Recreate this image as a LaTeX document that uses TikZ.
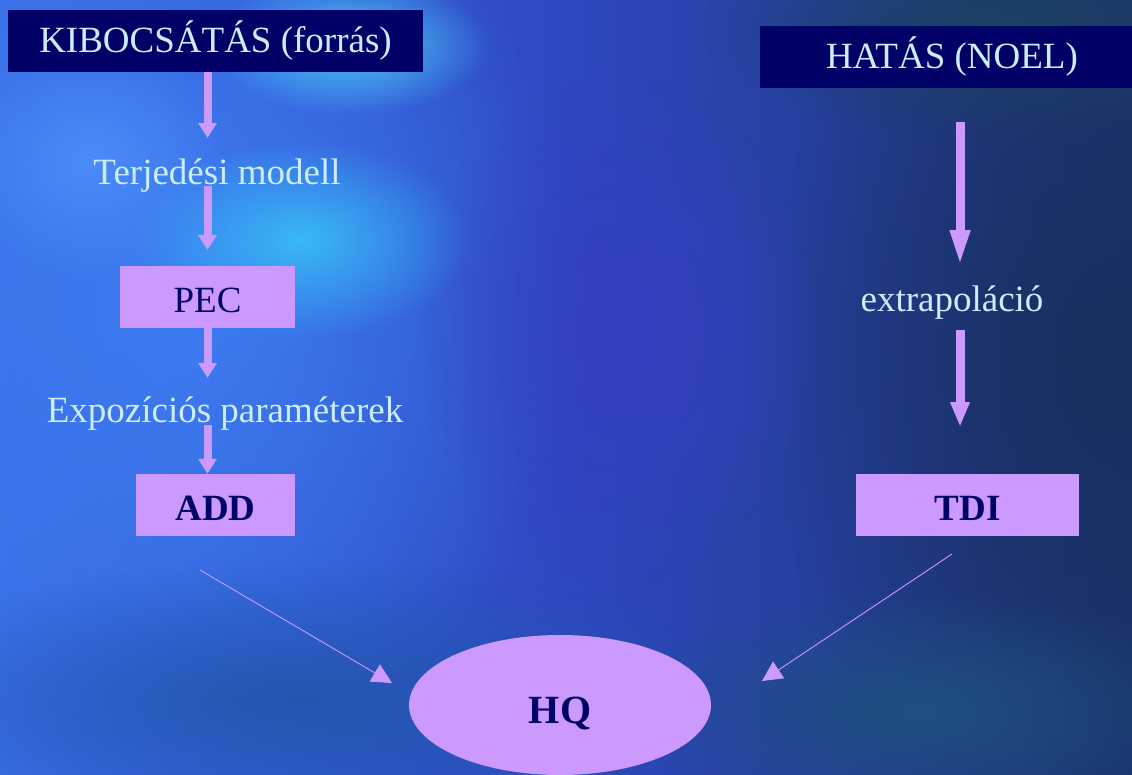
\documentclass[tikz,border=0pt]{standalone}
\usepackage{fontspec}
\setmainfont{Liberation Serif}
\usetikzlibrary{arrows.meta,fadings,shapes.geometric}
\tikzfading[name=glow, inner color=transparent!0, outer color=transparent!100]
\definecolor{navy}{HTML}{000066}
\definecolor{lilac}{HTML}{CC99FF}
\definecolor{paletxt}{HTML}{CCECFF}
\definecolor{bgL}{HTML}{3A6FE8}
\definecolor{bgM}{HTML}{2E48C0}
\definecolor{bgR}{HTML}{1C3572}
\definecolor{gA}{HTML}{3D7CF2}
\definecolor{gB}{HTML}{18305E}
\definecolor{gC}{HTML}{3540C0}
\definecolor{gD}{HTML}{4CC8F8}
\definecolor{gE}{HTML}{38B8F5}
\definecolor{gF}{HTML}{4A8CF8}
\definecolor{gG}{HTML}{1C4262}
\definecolor{gH}{HTML}{2456B0}
\definecolor{gI}{HTML}{1E5080}
\newcommand{\lowtxt}[2]{\raisebox{#1}[0pt][0pt]{#2}}
\begin{document}
\begin{tikzpicture}[x=1pt,y=-1pt,
  every node/.style={font=\fontsize{37}{42}\selectfont, inner sep=0pt},
  title/.style={fill=navy, text=paletxt, minimum height=62pt},
  box/.style={fill=lilac, text=navy, minimum height=62pt},
  boldbox/.style={box, font=\fontsize{37}{42}\selectfont\bfseries},
  lbl/.style={text=paletxt},
  fat/.style={draw=lilac, line width=8pt, -{Triangle[width=18pt,length=15pt]}},
  fatr/.style={draw=lilac, line width=9pt},
  thin/.style={draw=lilac, line width=0.9pt, -{Triangle[width=20pt,length=20pt]}},
  glowf/.style={fill=#1, path fading=glow}
]
\useasboundingbox (0,0) rectangle (1132,774);
% background
\shade[left color=bgL, right color=bgM] (0,0) rectangle (566,774);
\shade[left color=bgM, right color=bgR] (566,0) rectangle (1132,774);
\fill[glowf=gA] (180,300) ellipse (400 and 480);
\fill[glowf=gB] (1100,360) ellipse (330 and 520);
\fill[glowf=gC] (620,330) ellipse (200 and 260);
\fill[glowf=gD] (350,45) ellipse (140 and 70);
\fill[glowf=gE] (300,240) ellipse (170 and 100);
\fill[glowf=gF] (90,160) ellipse (140 and 120);
\fill[glowf=gG] (1000,30) ellipse (300 and 110);
\fill[glowf=gH] (300,700) ellipse (450 and 140);
\fill[glowf=gI] (920,710) ellipse (300 and 120);
% nodes
\node[title, minimum width=415pt] (kib) at (215.5,41) {KIBOCSÁTÁS (forrás)};
\node[title, minimum width=372pt] (hat) at (946,57) {\hspace*{12pt}HATÁS (NOEL)};
\node[lbl] (terj) at (217,176) {Terjedési modell};
\node[box, minimum width=175pt] (pec) at (207.5,297) {\lowtxt{-15pt}{PEC}};
\node[lbl] (expo) at (225,414) {Expozíciós paraméterek};
\node[boldbox, minimum width=159pt] (add) at (215.5,505) {\lowtxt{-15pt}{ADD}};
\node[lbl] (extra) at (952,303) {extrapoláció};
\node[boldbox, minimum width=223pt] (tdi) at (967.5,505) {\lowtxt{-15pt}{TDI}};
\node[ellipse, fill=lilac, text=navy, minimum width=302pt, minimum height=140pt, font=\fontsize{40}{46}\selectfont\bfseries] (hq) at (560,705) {\lowtxt{-18pt}{HQ}};
% coordinates for arrow ends
\coordinate (a1e) at (207.5,138);
\coordinate (a2s) at (207.5,186);
\coordinate (a2e) at (207.5,250);
\coordinate (a3e) at (207.5,378);
\coordinate (a4s) at (207.5,425);
\coordinate (r1s) at (960,122);
\coordinate (r1e) at (960,267);
\coordinate (r2s) at (960,330);
\coordinate (r2e) at (960,427);
\coordinate (ls) at (200,570);
\coordinate (le) at (392,683);
\coordinate (rs) at (952,554);
\coordinate (re) at (762,681);
% connectors
\draw[fat] (kib.south -| pec) -- (a1e);
\draw[fat] (a2s) -- (a2e);
\draw[fat] (pec.south) -- (a3e);
\draw[fat] (a4s) -- (add.north -| pec);
\draw[fatr, -{Triangle[width=18pt,length=37pt]}] (r1s) -- (r1e);
\draw[fatr, -{Triangle[width=18pt,length=25pt]}] (r2s) -- (r2e);
\draw[thin] (ls) -- (le);
\draw[thin] (rs) -- (re);
\end{tikzpicture}
\end{document}
